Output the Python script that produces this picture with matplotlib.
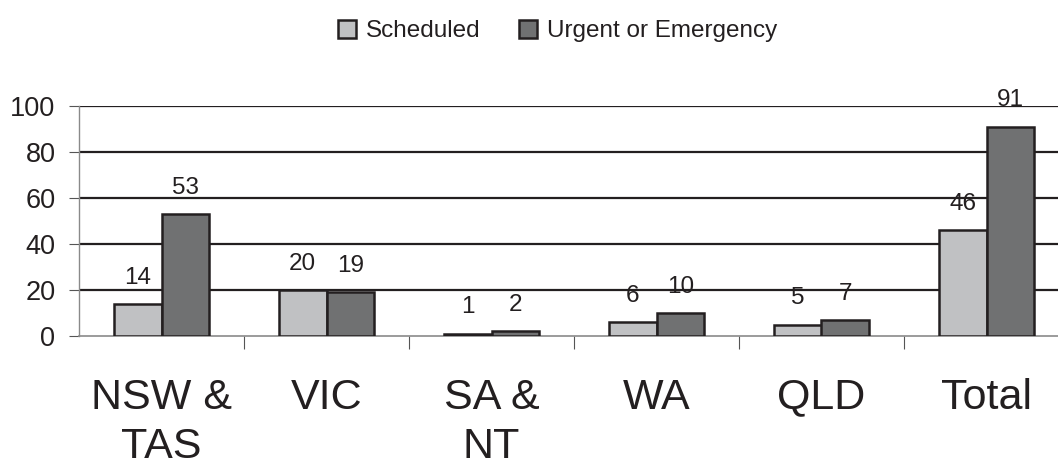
import numpy as np
import matplotlib
matplotlib.use("Agg")
from matplotlib import pyplot as plt

plt.rcParams["font.family"] = ["Liberation Sans", "DejaVu Sans"]
plt.rcParams["text.color"] = "#231f20"

regions = ["NSW &\nTAS", "VIC", "SA &\nNT", "WA", "QLD", "Total"]
scheduled = [14, 20, 1, 6, 5, 46]
urgent = [53, 19, 2, 10, 7, 91]

light = "#c0c1c3"
dark = "#707172"
ink = "#231f20"

fig = plt.figure(figsize=(10.58, 4.59), dpi=100)
ax = fig.add_axes([79 / 1058, 123 / 459, 990 / 1058, 230 / 459])

x = np.arange(len(regions))
w = 0.29

# horizontal rules behind the bars
for yv in [20, 40, 60, 80]:
    ax.axhline(yv, color=ink, lw=1.6, zorder=1)
ax.axhline(100, color=ink, lw=0.9, zorder=1)

b1 = ax.bar(x - w / 2, scheduled, w, color=light, edgecolor=ink, lw=1.8,
            zorder=3, label="Scheduled")
b2 = ax.bar(x + w / 2, urgent, w, color=dark, edgecolor=ink, lw=1.8,
            zorder=3, label="Urgent or Emergency")

for bars, vals in [(b1, scheduled), (b2, urgent)]:
    for rect, v in zip(bars, vals):
        ax.annotate(str(v), (rect.get_x() + rect.get_width() / 2, v),
                    xytext=(0, 11), textcoords="offset points",
                    ha="center", va="bottom", fontsize=17.5, color=ink,
                    zorder=4)

ax.set_xlim(-0.5, len(regions) - 0.5)
ax.set_ylim(0, 100)

for side in ["top", "right"]:
    ax.spines[side].set_visible(False)
ax.spines["left"].set_color("#8a8a8a")
ax.spines["left"].set_linewidth(1)
ax.spines["bottom"].set_color("#8a8a8a")
ax.spines["bottom"].set_linewidth(1.2)
ax.spines["left"].set_zorder(5)

ax.set_yticks([0, 20, 40, 60, 80, 100])
ax.tick_params(axis="y", direction="out", length=7, width=0.8,
               color="#555555", pad=10, labelsize=19.5, labelcolor=ink)

# category boundaries get the tick marks, centres get the names
ax.set_xticks(np.arange(0.5, len(regions) - 0.5, 1))
ax.set_xticklabels([])
ax.tick_params(axis="x", which="major", direction="out", length=9,
               width=0.8, color="#555555")
ax.set_xticks(x, minor=True)
ax.set_xticklabels(regions, minor=True, fontsize=31, color=ink,
                   linespacing=1.3)
ax.tick_params(axis="x", which="minor", length=0, pad=30)

fig.legend(handles=[b1, b2], loc="center", bbox_to_anchor=(0.527, 0.932),
           ncol=2, frameon=False, fontsize=17.5, handlelength=0.75,
           handleheight=0.75, handletextpad=0.4, columnspacing=1.6)

fig.savefig("out.png", dpi=100)
